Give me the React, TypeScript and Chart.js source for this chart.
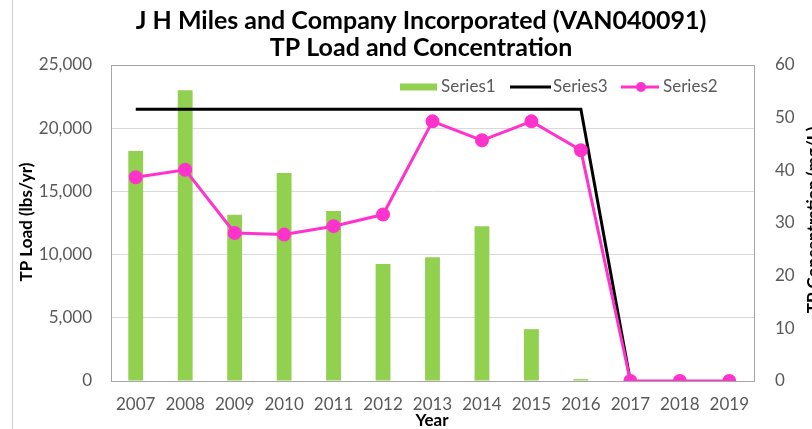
import React, { useEffect, useRef } from "react";
import { Chart, registerables } from "chart.js";

Chart.register(...registerables);

const years = ["2007","2008","2009","2010","2011","2012","2013","2014","2015","2016","2017","2018","2019"];
const series1Load = [18200, 23000, 13150, 16450, 13450, 9250, 9800, 12250, 4100, 150, 0, 0, 0];
const series2Conc = [38.7, 40.1, 28.1, 27.8, 29.4, 31.6, 49.3, 45.7, 49.3, 43.8, 0, 0, 0];
const series3Limit = [51.6, 51.6, 51.6, 51.6, 51.6, 51.6, 51.6, 51.6, 51.6, 51.6, 0, null, null];
const titleLines = ["J H Miles and Company Incorporated (VAN040091)", "TP Load and Concentration"];
const legendLabels = ["Series1", "Series3", "Series2"];

const FONT = "Lato, 'Open Sans', sans-serif";
const GREEN = "#92D050";
const PINK = "#FF33CC";
const TEXT = "#595959";

const decorPlugin = {
  id: "decor",
  beforeDatasetsDraw(chart: any) {
    const { ctx, chartArea: a } = chart;
    ctx.save();
    ctx.strokeStyle = "#a6a6a6";
    ctx.lineWidth = 1;
    ctx.strokeRect(Math.round(a.left) + 0.5, Math.round(a.top) + 0.5, Math.round(a.right - a.left), Math.round(a.bottom - a.top));
    ctx.restore();
  },
  afterDraw(chart: any) {
    const { ctx } = chart;
    ctx.save();
    ctx.strokeStyle = "#d0d0d0";
    ctx.lineWidth = 1;
    ctx.beginPath();
    ctx.moveTo(12.5, 0);
    ctx.lineTo(12.5, chart.height);
    ctx.stroke();

    ctx.fillStyle = "#000";
    ctx.textAlign = "center";
    ctx.textBaseline = "middle";
    ctx.font = `bold 25px ${FONT}`;
    ctx.fillText(titleLines[0], 421, 21);
    ctx.fillText(titleLines[1], 421, 48);

    ctx.font = `bold 17px ${FONT}`;
    ctx.save();
    ctx.translate(27, 222);
    ctx.rotate(-Math.PI / 2);
    ctx.fillText("TP Load (lbs/yr)", 0, 0);
    ctx.restore();
    ctx.save();
    ctx.translate(814, 220);
    ctx.rotate(-Math.PI / 2);
    ctx.fillText("TP Concentration (mg/L)", 0, 0);
    ctx.restore();
    ctx.fillText("Year", 432, 421);

    const ly = 87;
    ctx.font = `17px ${FONT}`;
    ctx.textAlign = "left";
    ctx.fillStyle = GREEN;
    ctx.fillRect(400, ly - 3.5, 37, 7);
    ctx.fillStyle = TEXT;
    ctx.fillText(legendLabels[0], 441, ly);
    ctx.strokeStyle = "#000";
    ctx.lineWidth = 3;
    ctx.beginPath();
    ctx.moveTo(510, ly);
    ctx.lineTo(551, ly);
    ctx.stroke();
    ctx.fillText(legendLabels[1], 553, ly);
    ctx.strokeStyle = PINK;
    ctx.beginPath();
    ctx.moveTo(621, ly);
    ctx.lineTo(659, ly);
    ctx.stroke();
    ctx.fillStyle = PINK;
    ctx.beginPath();
    ctx.arc(641, ly, 5, 0, Math.PI * 2);
    ctx.fill();
    ctx.fillStyle = TEXT;
    ctx.fillText(legendLabels[2], 663, ly);
    ctx.restore();
  },
};

export default function App() {
  const ref = useRef<HTMLCanvasElement>(null);
  useEffect(() => {
    document.body.style.overflow = "hidden";
    const chart = new Chart(ref.current!, {
      type: "bar",
      data: {
        labels: years,
        datasets: [
          {
            type: "bar",
            label: "Series1",
            data: series1Load,
            backgroundColor: GREEN,
            yAxisID: "y",
            barPercentage: 0.3,
            categoryPercentage: 1,
            order: 3,
          },
          {
            type: "line",
            label: "Series3",
            data: series3Limit,
            borderColor: "#000",
            borderWidth: 3,
            pointRadius: 0,
            yAxisID: "y1",
            order: 2,
          },
          {
            type: "line",
            label: "Series2",
            data: series2Conc,
            borderColor: PINK,
            backgroundColor: PINK,
            borderWidth: 3,
            pointRadius: 5.5,
            pointBackgroundColor: PINK,
            pointBorderColor: PINK,
            yAxisID: "y1",
            order: 1,
          },
        ] as any,
      },
      options: {
        animation: false,
        responsive: false,
        layout: { padding: { top: 65, left: 0, right: 0, bottom: 0 } },
        plugins: { legend: { display: false }, title: { display: false }, tooltip: { enabled: false } },
        scales: {
          x: {
            grid: { display: false, drawTicks: false },
            border: { display: false },
            ticks: { color: TEXT, font: { family: FONT, size: 17 }, padding: 13, maxRotation: 0 },
            afterFit: (s: any) => { s.height = 48; },
          },
          y: {
            position: "left",
            min: 0,
            max: 25000,
            ticks: {
              stepSize: 5000,
              color: TEXT,
              font: { family: FONT, size: 17 },
              padding: 19,
              callback: (v: any) => Number(v).toLocaleString("en-US"),
            },
            grid: { color: "#d9d9d9", drawTicks: false },
            border: { display: false },
            afterFit: (s: any) => { s.width = 111; },
          },
          y1: {
            position: "right",
            min: 0,
            max: 60,
            ticks: { stepSize: 10, color: TEXT, font: { family: FONT, size: 17 }, padding: 21 },
            grid: { display: false, drawTicks: false },
            border: { display: false },
            afterFit: (s: any) => { s.width = 76; },
          },
        },
      } as any,
      plugins: [decorPlugin],
    });
    return () => chart.destroy();
  }, []);
  return (
    <div style={{ position: "absolute", left: 0, top: 0, width: 830, height: 429, background: "#fff" }}>
      <canvas ref={ref} width={830} height={429} />
    </div>
  );
}
